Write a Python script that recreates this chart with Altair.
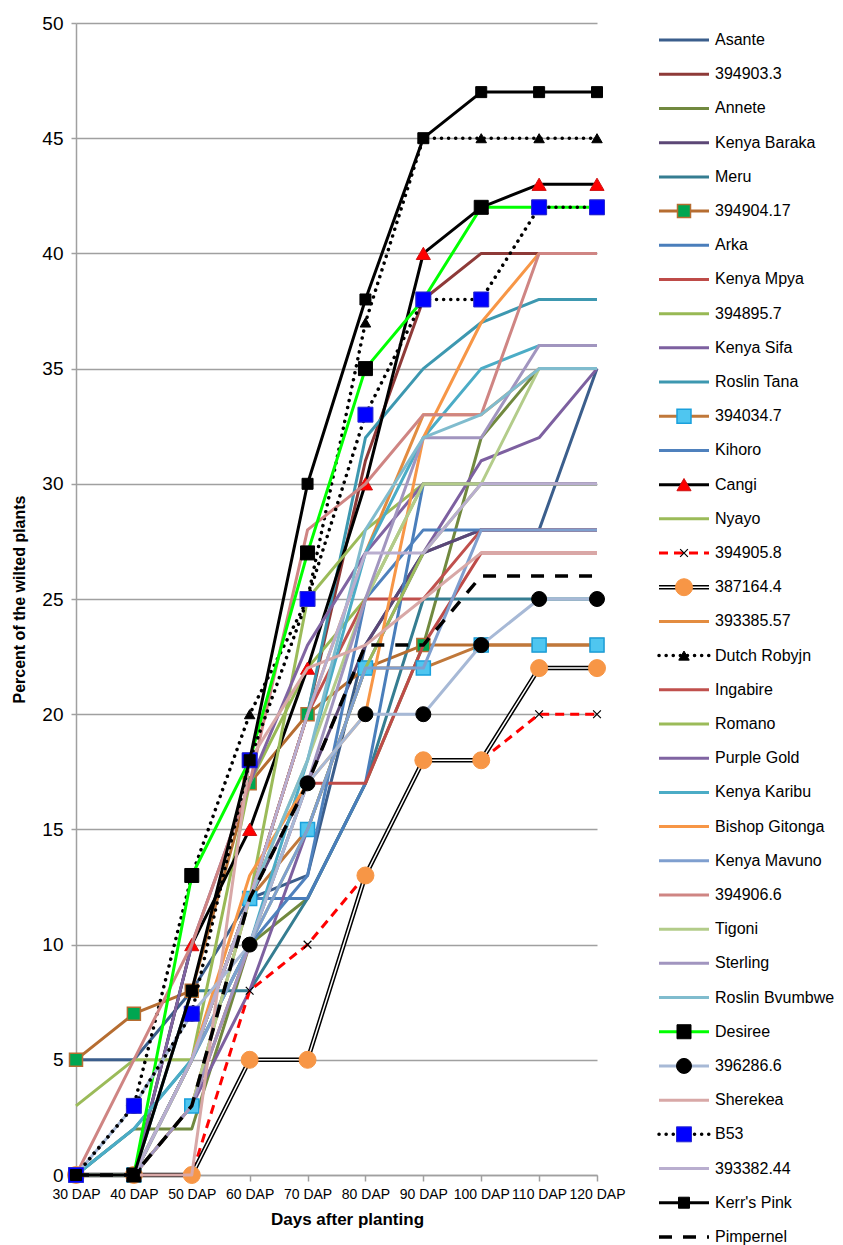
import altair as alt
import pandas as pd

days = [30, 40, 50, 60, 70, 80, 90, 100, 110, 120]

asante = [5, 5, 8, 12, 13, 23, 27, 28, 28, 35]
s394903_3 = [0, 0, 5, 12, 20, 31, 38, 40, 40, 40]
annete = [0, 2, 2, 10, 12, 17, 23, 32, 35, 35]
kenya_baraka = [0, 0, 5, 12, 17, 23, 27, 28, 28, 28]
meru = [0, 0, 8, 8, 12, 17, 25, 25, 25, 25]
s394904_17 = [5, 7, 8, 17, 20, 22, 23, 23, 23, 23]
arka = [0, 0, 5, 12, 12, 17, 30, 30, 30, 30]
kenya_mpya = [0, 0, 3, 10, 17, 17, 23, 27, 27, 27]
s394895_7 = [0, 0, 5, 17, 22, 25, 30, 30, 30, 30]
kenya_sifa = [0, 0, 3, 8, 15, 22, 27, 31, 32, 35]
roslin_tana = [0, 2, 5, 12, 20, 32, 35, 37, 38, 38]
s394034_7 = [0, 0, 3, 12, 15, 22, 22, 23, 23, 23]
kihoro = [0, 0, 5, 10, 13, 25, 28, 28, 28, 28]
cangi = [0, 0, 10, 15, 22, 30, 40, 42, 43, 43]
nyayo = [3, 5, 5, 12, 25, 28, 30, 30, 30, 30]
s394905_8 = [0, 0, 0, 8, 10, 13, 18, 18, 20, 20]
s387164_4 = [0, 0, 0, 5, 5, 13, 18, 18, 22, 22]
s393385_57 = [0, 0, 5, 12, 20, 27, 33, 33, 35, 35]
dutch_robyjn = [0, 3, 13, 20, 25, 37, 45, 45, 45, 45]
ingabire = [0, 0, 5, 12, 20, 25, 25, 28, 28, 28]
romano = [0, 0, 5, 10, 15, 22, 27, 30, 30, 30]
purple_gold = [0, 0, 10, 17, 23, 27, 30, 30, 30, 30]
kenya_karibu = [0, 2, 5, 10, 18, 27, 32, 35, 36, 36]
bishop_gitonga = [0, 0, 5, 13, 17, 20, 32, 37, 40, 40]
kenya_mavuno = [0, 0, 5, 10, 15, 22, 22, 28, 28, 28]
s394906_6 = [0, 5, 10, 17, 28, 30, 33, 33, 40, 40]
tigoni = [0, 0, 3, 12, 18, 25, 30, 30, 35, 35]
sterling = [0, 0, 3, 10, 17, 25, 32, 32, 36, 36]
roslin_bvumbwe = [0, 0, 5, 12, 18, 28, 32, 33, 35, 35]
desiree = [0, 0, 13, 18, 27, 35, 38, 42, 42, 42]
s396286_6 = [0, 3, 7, 10, 17, 20, 20, 23, 25, 25]
sherekea = [0, 0, 0, 18, 22, 23, 25, 27, 27, 27]
b53 = [0, 3, 7, 18, 25, 33, 38, 38, 42, 42]
s393382_44 = [0, 0, 5, 12, 20, 27, 27, 30, 30, 30]
kerrs_pink = [0, 0, 8, 18, 30, 38, 45, 47, 47, 47]
pimpernel = [0, 0, 3, 12, 17, 23, 23, 26, 26, 26]

names = ["Asante", "394903.3", "Annete", "Kenya Baraka", "Meru", "394904.17", "Arka",
         "Kenya Mpya", "394895.7", "Kenya Sifa", "Roslin Tana", "394034.7", "Kihoro",
         "Cangi", "Nyayo", "394905.8", "387164.4", "393385.57", "Dutch Robyjn",
         "Ingabire", "Romano", "Purple Gold", "Kenya Karibu", "Bishop Gitonga",
         "Kenya Mavuno", "394906.6", "Tigoni", "Sterling", "Roslin Bvumbwe", "Desiree",
         "396286.6", "Sherekea", "B53", "393382.44", "Kerr's Pink", "Pimpernel"]
series = [asante, s394903_3, annete, kenya_baraka, meru, s394904_17, arka,
          kenya_mpya, s394895_7, kenya_sifa, roslin_tana, s394034_7, kihoro,
          cangi, nyayo, s394905_8, s387164_4, s393385_57, dutch_robyjn,
          ingabire, romano, purple_gold, kenya_karibu, bishop_gitonga,
          kenya_mavuno, s394906_6, tigoni, sterling, roslin_bvumbwe, desiree,
          s396286_6, sherekea, b53, s393382_44, kerrs_pink, pimpernel]
colors = ["#3B5E8C", "#8E3A38", "#71893F", "#5C4776", "#357D91", "#B66D31", "#4A7EBB",
          "#BE4B48", "#98B954", "#7D60A0", "#3D98B0", "#C0783A", "#4F81BD",
          "#000000", "#9BBB59", "#FF0000", "#000000", "#E38C40", "#000000",
          "#C0504D", "#9BBB59", "#8064A2", "#4BACC6", "#F79646",
          "#7F9FCF", "#CF8583", "#B3CC8A", "#A195BF", "#80BCCE", "#00FF00",
          "#A7B9D6", "#D8A8A7", "#000000", "#B9AECF", "#000000", "#000000"]

DOT = [0.1, 7]
styles = {n: {"color": c, "width": 3} for n, c in zip(names, colors)}
styles["394904.17"]["marker"] = dict(shape="square", size=169, fill="#00A651", stroke="#B66D31", sw=1.5)
styles["394034.7"]["marker"] = dict(shape="square", size=196, fill="#4FC6F0", stroke="#1AA0DC", sw=1.5)
styles["Cangi"]["marker"] = dict(shape="triangle-up", size=200, fill="#FF0000", stroke="#D01010", sw=1)
styles["394905.8"].update(dash=[9, 6])
styles["394905.8"]["marker"] = dict(shape="M-1,-1L1,1M-1,1L1,-1", size=60, fill=None, stroke="#000000", sw=1.2)
styles["387164.4"]["double"] = True
styles["387164.4"]["marker"] = dict(shape="circle", size=289, fill="#F79646", stroke="#F79646", sw=1)
styles["Dutch Robyjn"].update(dash=DOT, cap="round", width=3.5)
styles["Dutch Robyjn"]["marker"] = dict(shape="triangle-up", size=110, fill="#000000", stroke="#000000", sw=1)
styles["Desiree"]["marker"] = dict(shape="square", size=196, fill="#000000", stroke="#000000", sw=1)
styles["396286.6"]["marker"] = dict(shape="circle", size=225, fill="#000000", stroke="#000000", sw=1)
styles["B53"].update(dash=DOT, cap="round", width=3.5)
styles["B53"]["marker"] = dict(shape="square", size=225, fill="#0000FF", stroke="#2A2AD0", sw=1)
styles["Kerr's Pink"]["marker"] = dict(shape="square", size=121, fill="#000000", stroke="#000000", sw=1)
styles["Pimpernel"].update(dash=[13, 11], width=3.5)

rows = []
for n, vals in zip(names, series):
    for d, v in zip(days, vals):
        rows.append({"series": n, "day": d, "value": v})
df = pd.DataFrame(rows)

FONT = "Liberation Sans"

xenc = alt.X("day:Q",
             scale=alt.Scale(domain=[30, 120], nice=False, zero=False),
             axis=alt.Axis(values=days, labelExpr="datum.value + ' DAP'", grid=False,
                           labelFlush=False, labelOverlap=False, tickSize=6,
                           labelPadding=6, labelFontSize=14, labelFont=FONT,
                           labelColor="#000000", domainColor="#A0A0A0", domainWidth=1.5,
                           tickColor="#A0A0A0", tickWidth=1.5,
                           titleFontSize=17, titleFont=FONT, titleFontWeight="bold",
                           titleColor="#000000", titlePadding=10, titleX=271),
             title="Days after planting")
yenc = alt.Y("value:Q",
             scale=alt.Scale(domain=[0, 50], nice=False),
             axis=alt.Axis(values=list(range(0, 51, 5)), grid=True, gridColor="#A0A0A0",
                           gridWidth=1.5, tickSize=5, tickColor="#A0A0A0", tickWidth=1.5,
                           domainColor="#A0A0A0", domainWidth=1.5,
                           labelFontSize=19, labelFont=FONT, labelColor="#000000",
                           labelPadding=8, titleFontSize=16, titleFont=FONT,
                           titleFontWeight="bold", titleColor="#000000", titlePadding=14),
             title="Percent of the wilted plants")

main_layers = []
for n in names:
    st = styles[n]
    base = alt.Chart(df).transform_filter(alt.datum.series == n)
    if st.get("double"):
        main_layers.append(base.mark_line(color="#000000", strokeWidth=4.5, strokeJoin="round").encode(x=xenc, y=yenc))
        main_layers.append(base.mark_line(color="#FFFFFF", strokeWidth=1.5, strokeJoin="round").encode(x=xenc, y=yenc))
    else:
        kw = dict(color=st["color"], strokeWidth=st["width"], strokeJoin="round")
        if st.get("dash"):
            kw["strokeDash"] = st["dash"]
        if st.get("cap"):
            kw["strokeCap"] = st["cap"]
        main_layers.append(base.mark_line(**kw).encode(x=xenc, y=yenc))
    m = st.get("marker")
    if m:
        pkw = dict(shape=m["shape"], size=m["size"], stroke=m["stroke"],
                   strokeWidth=m["sw"], opacity=1)
        if m["fill"]:
            pkw.update(filled=True, fill=m["fill"])
        else:
            pkw.update(filled=False)
        main_layers.append(base.mark_point(**pkw).encode(x=xenc, y=yenc))

main = alt.layer(*main_layers).properties(width=521, height=1152)

# legend panel
leg = pd.DataFrame({"series": names, "x0": [0] * len(names), "x1": [50] * len(names),
                    "xm": [25] * len(names), "xt": [56] * len(names)})
lx = alt.Scale(domain=[0, 175], nice=False, zero=False)
ly = alt.Scale(domain=names, type="point", padding=0.5)
leg_layers = []
for n in names:
    st = styles[n]
    base = alt.Chart(leg).transform_filter(alt.datum.series == n)
    enc = dict(x=alt.X("x0:Q", scale=lx, axis=None), x2="x1:Q",
               y=alt.Y("series:N", scale=ly, axis=None))
    if st.get("double"):
        leg_layers.append(base.mark_rule(color="#000000", strokeWidth=4.5).encode(**enc))
        leg_layers.append(base.mark_rule(color="#FFFFFF", strokeWidth=1.5).encode(**enc))
    else:
        kw = dict(color=st["color"], strokeWidth=st["width"])
        if st.get("dash"):
            kw["strokeDash"] = st["dash"]
        if st.get("cap"):
            kw["strokeCap"] = st["cap"]
        leg_layers.append(base.mark_rule(**kw).encode(**enc))
    m = st.get("marker")
    if m:
        pkw = dict(shape=m["shape"], size=m["size"], stroke=m["stroke"],
                   strokeWidth=m["sw"], opacity=1)
        if m["fill"]:
            pkw.update(filled=True, fill=m["fill"])
        else:
            pkw.update(filled=False)
        leg_layers.append(base.mark_point(**pkw).encode(
            x=alt.X("xm:Q", scale=lx, axis=None), y=alt.Y("series:N", scale=ly, axis=None)))
leg_layers.append(alt.Chart(leg).mark_text(align="left", baseline="middle", fontSize=16,
                                           font=FONT, color="#000000").encode(
    x=alt.X("xt:Q", scale=lx, axis=None), y=alt.Y("series:N", scale=ly, axis=None),
    text="series:N"))
legend = alt.layer(*leg_layers).properties(width=175, height=1231)

chart = alt.hconcat(main, legend, spacing=62, bounds="flush").properties(
    padding={"left": 3, "top": 6, "right": 0, "bottom": 0}
).configure_view(stroke=None)

chart.save("out.html", embed_options={"renderer": "svg", "actions": False})
